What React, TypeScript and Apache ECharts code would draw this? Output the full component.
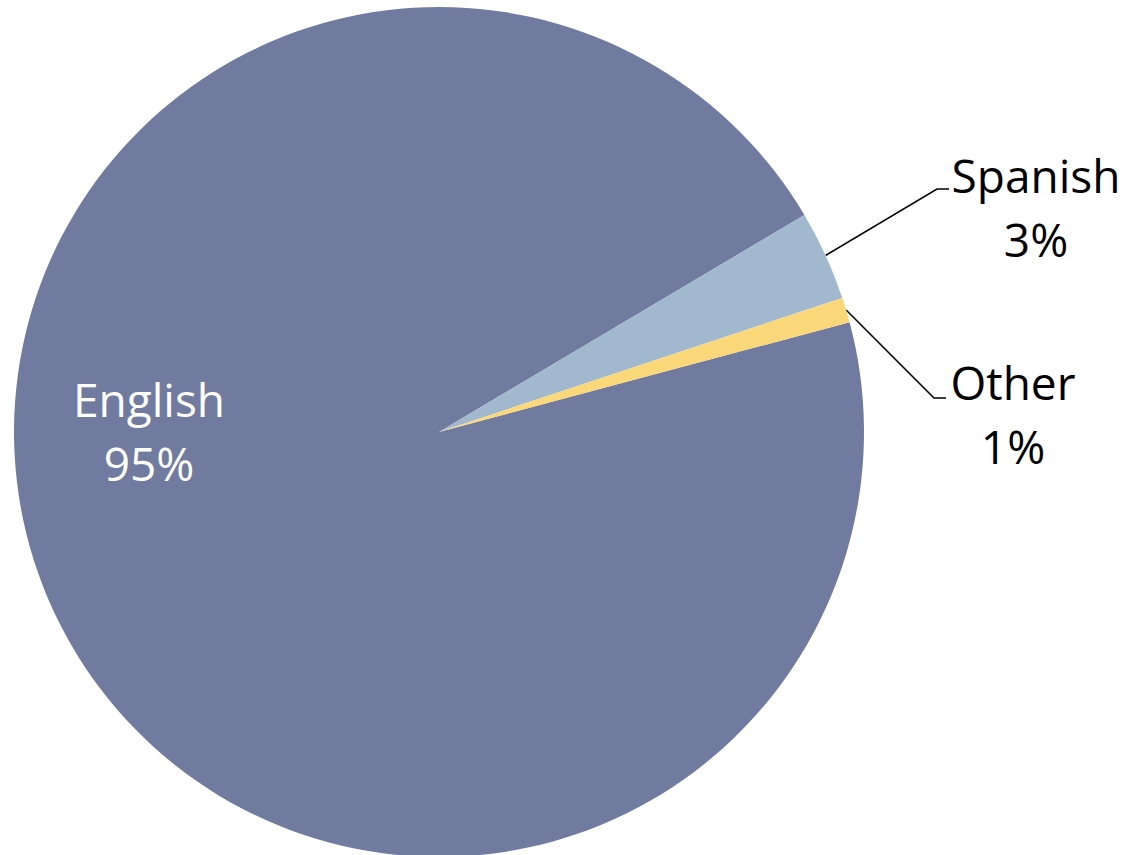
import React, { useEffect, useRef } from "react";
import * as echarts from "echarts";

// Data
const languages = ["English", "Spanish", "Other"];
const shares = [95.63, 3.42, 0.95];
const shareLabels = ["95%", "3%", "1%"];
const colors = ["#717BA0", "#A2B8CE", "#FAD87A"];

// Label layout (pixel positions of label text blocks and leader-line elbows)
const labelPos = [
  { x: 149, y: 431, elbow: null as null | number[], end: null as null | number[] },
  { x: 1036, y: 207, elbow: [937, 189], end: [949, 189] },
  { x: 1013, y: 414, elbow: [934, 398], end: [946, 398] },
];

export default function App() {
  const ref = useRef<HTMLDivElement>(null);
  useEffect(() => {
    if (!ref.current) return;
    const chart = echarts.init(ref.current, null, { renderer: "svg" });
    chart.setOption({
      animation: false,
      backgroundColor: "#ffffff",
      series: [
        {
          type: "pie",
          center: [439, 432],
          radius: [0, 425],
          startAngle: 14.97,
          clockwise: true,
          avoidLabelOverlap: false,
          itemStyle: { borderWidth: 0 },
          label: {
            show: true,
            position: "outside",
            fontFamily: "Open Sans",
            fontSize: 46,
            lineHeight: 64,
            color: "#000000",
            align: "center",
            formatter: (p: any) =>
              languages[p.dataIndex] + "\n" + shareLabels[p.dataIndex],
          },
          labelLine: {
            show: true,
            length: 20,
            length2: 20,
            smooth: false,
            lineStyle: { color: "#000000", width: 1.6 },
          },
          labelLayout: (params: any) => {
            const lp = labelPos[params.dataIndex];
            const res: any = {
              x: lp.x,
              y: lp.y,
              align: "center",
              verticalAlign: "middle",
            };
            if (lp.elbow && params.labelLinePoints) {
              const pts = params.labelLinePoints;
              res.labelLinePoints = [
                [pts[0][0], pts[0][1]],
                lp.elbow,
                lp.end,
              ];
            }
            return res;
          },
          data: languages.map((name, i) => ({
            name,
            value: shares[i],
            itemStyle: { color: colors[i] },
            label:
              i === 0
                ? { position: "inside", color: "#ffffff" }
                : { position: "outside", color: "#000000" },
            labelLine: { show: i !== 0 },
          })),
        },
      ],
    });
    return () => chart.dispose();
  }, []);
  return (
    <div
      ref={ref}
      style={{ position: "fixed", left: 0, top: 0, width: 1126, height: 855 }}
    />
  );
}
